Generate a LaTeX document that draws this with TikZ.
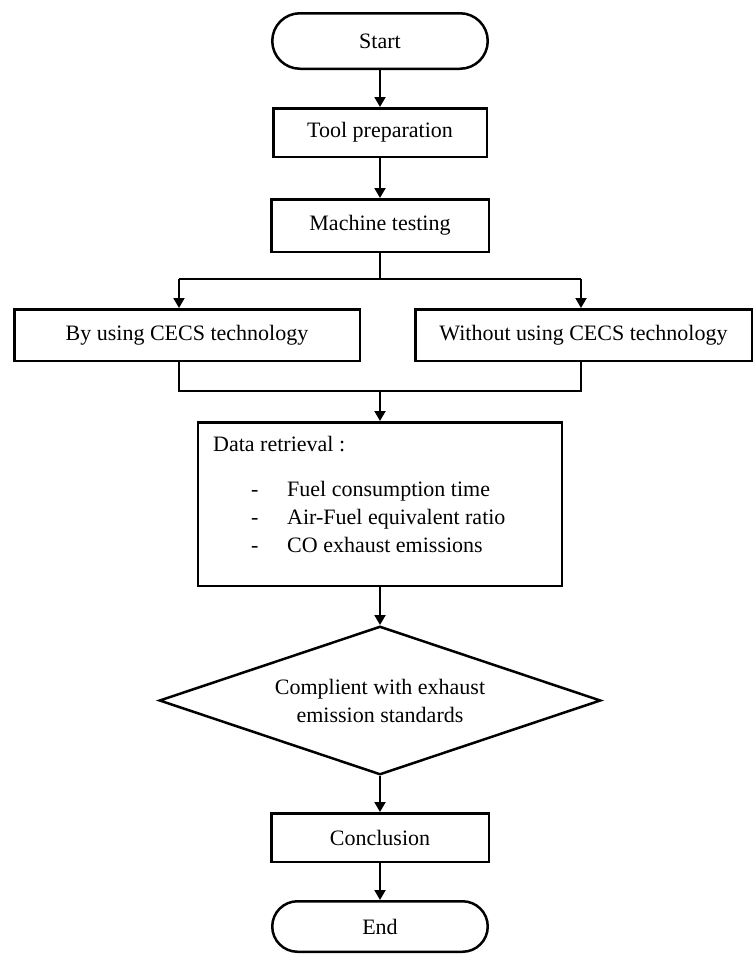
\documentclass[tikz,border=0pt]{standalone}
\usepackage{fontspec}
\setmainfont{Liberation Serif}
\usetikzlibrary{shapes.misc,shapes.geometric,arrows.meta}

\begin{document}
\begin{tikzpicture}[x=1pt,y=-1pt,
  every node/.style={font=\fontsize{22}{28}\selectfont},
  box/.style={draw,line width=2.5pt,inner sep=0pt},
  term/.style={box,rounded rectangle},
  ln/.style={line width=2pt},
  arr/.style={ln,-{Triangle[length=10pt,width=11pt]}},
  txt/.style={anchor=base west,inner sep=0pt}]
\useasboundingbox (0,0) rectangle (755,956);

\node[term,minimum width=215.5pt,minimum height=55.5pt] (start) at (380,41) {Start};
\node[box,minimum width=213.5pt,minimum height=48.5pt] (tool) at (380,132.5) {Tool preparation};
\node[box,minimum width=217.5pt,minimum height=52.5pt] (test) at (380,225.5) {Machine testing};

\node[box,minimum width=345.5pt,minimum height=51.5pt] (with) at (187,335) {By using CECS technology};
\node[box,minimum width=336.5pt,minimum height=51.5pt] (without) at (583.5,335) {Without using CECS technology};

\node[box,minimum width=364pt,minimum height=163.5pt] (data) at (380,504) {};
\node[txt] (dtitle) at (213,451) {Data retrieval :};
\node[txt] (dash1) at (251,496) {-};
\node[txt] (item1) at (287,496) {Fuel consumption time};
\node[txt] (dash2) at (251,524) {-};
\node[txt] (item2) at (287,524) {Air-Fuel equivalent ratio};
\node[txt] (dash3) at (251,552) {-};
\node[txt] (item3) at (287,552) {CO exhaust emissions};

\node[box,diamond,aspect=2.94,minimum width=441.5pt,minimum height=148.5pt,align=center] (check) at (380,700.5) {Complient with exhaust\\emission standards};
\node[box,minimum width=217.5pt,minimum height=48.5pt] (concl) at (380,837.5) {Conclusion};
\node[term,minimum width=215.5pt,minimum height=50.5pt] (end) at (380,926.5) {End};

\coordinate (sl) at (179,279);
\coordinate (sr) at (581,279);
\coordinate (jl) at (179,391);
\coordinate (jr) at (581,391);

\draw[arr] (start) -- (tool);
\draw[arr] (tool) -- (test);
\draw[ln] (test.south) -- (test.south |- sl);
\draw[ln] (sl) -- (sr);
\draw[arr] (sl) -- (sl |- with.north);
\draw[arr] (sr) -- (sr |- without.north);
\draw[ln] (jl |- with.south) -- (jl) -- (jr) -- (jr |- without.south);
\draw[arr] (data.north |- jl) -- (data.north);
\draw[arr] (data) -- (check);
\draw[arr] (check) -- (concl);
\draw[arr] (concl) -- (end);
\end{tikzpicture}
\end{document}
